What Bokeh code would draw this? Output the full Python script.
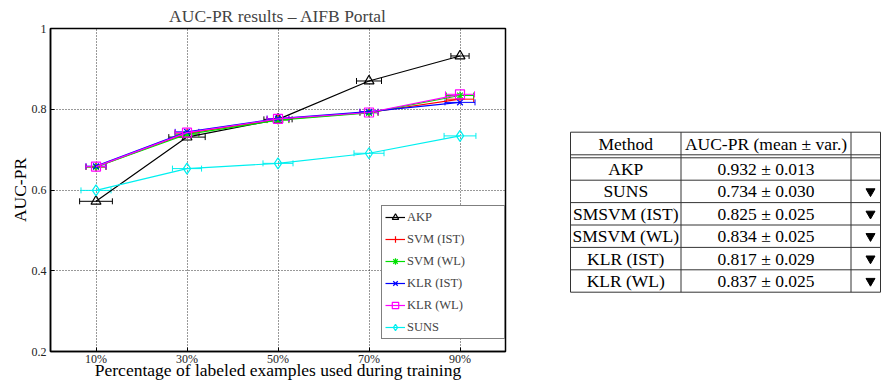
from bokeh.plotting import figure
from bokeh.models import (Range1d, FixedTicker, ColumnDataSource, Whisker, TeeHead,
                          Legend, LegendItem)
from bokeh.core.properties import value
from bokeh.layouts import row
from bokeh.embed import file_html
from bokeh.resources import INLINE

# ---------------- data ----------------
x_pct = [10, 30, 50, 70, 90]
x_tick_labels = ["10%", "30%", "50%", "70%", "90%"]
y_ticks = [0.2, 0.4, 0.6, 0.8, 1.0]
y_tick_labels = ["0.2", "0.4", "0.6", "0.8", "1"]

akp = [0.572, 0.731, 0.775, 0.870, 0.932]
akp_err = [3.6, 4.0, 3.1, 2.75, 2.0]
svm_ist = [0.657, 0.741, 0.774, 0.792, 0.825]
svm_ist_err = [2.2, 2.6, 2.4, 2.0, 3.0]
svm_wl = [0.657, 0.738, 0.773, 0.791, 0.834]
svm_wl_err = [2.2, 2.6, 2.4, 2.0, 3.0]
klr_ist = [0.659, 0.744, 0.777, 0.794, 0.817]
klr_ist_err = [2.2, 2.6, 2.4, 2.0, 3.3]
klr_wl = [0.658, 0.742, 0.776, 0.792, 0.837]
klr_wl_err = [2.2, 2.6, 2.4, 2.0, 3.2]
suns = [0.599, 0.653, 0.666, 0.691, 0.734]
suns_err = [3.3, 3.2, 3.3, 3.3, 3.5]

series_names = ["AKP", "SVM (IST)", "SVM (WL)", "KLR (IST)", "KLR (WL)", "SUNS"]
series_values = [akp, svm_ist, svm_wl, klr_ist, klr_wl, suns]
series_errors = [akp_err, svm_ist_err, svm_wl_err, klr_ist_err, klr_wl_err, suns_err]

title_text = "AUC-PR results \u2013 AIFB Portal"
x_label = "Percentage of labeled examples used during training"
y_label = "AUC-PR"

table_header = ["Method", "AUC-PR (mean \u00b1 var.)"]
table_methods = ["AKP", "SUNS", "SMSVM (IST)", "SMSVM (WL)", "KLR (IST)", "KLR (WL)"]
table_mean = [0.932, 0.734, 0.825, 0.834, 0.817, 0.837]
table_var = [0.013, 0.030, 0.025, 0.025, 0.029, 0.025]
table_worse = [False, True, True, True, True, True]

# ---------------- styles ----------------
styles = {
    "AKP": dict(color="#000000", marker="triangle", size=10),
    "SVM (IST)": dict(color="#ff0000", marker="cross", size=9),
    "SVM (WL)": dict(color="#00e000", marker="asterisk", size=8),
    "KLR (IST)": dict(color="#0000ff", marker="x", size=8),
    "KLR (WL)": dict(color="#ff00ff", marker="square", size=9),
    "SUNS": dict(color="#00f0f0", marker="diamond", size=11),
}
SERIF = "Liberation Serif"
W1, W2, H = 518, 365, 383
BL, BR, BT, BB = 50, 13, 28, 32

# ---------------- chart ----------------
p = figure(width=W1, height=H, x_range=Range1d(0, 100), y_range=Range1d(0.2, 1.0),
           output_backend="svg", toolbar_location=None, title=title_text,
           min_border_left=BL, min_border_right=BR, min_border_top=BT, min_border_bottom=BB)
p.title.text_font = SERIF
p.title.text_font_size = "17.5px"
p.title.text_font_style = "normal"
p.title.align = "center"
p.title.standoff = 6

p.outline_line_color = "black"
p.outline_line_width = 1.5
p.background_fill_color = "white"

p.xaxis.ticker = FixedTicker(ticks=x_pct)
p.xaxis.major_label_overrides = dict(zip(x_pct, x_tick_labels))
p.yaxis.ticker = FixedTicker(ticks=y_ticks)
p.yaxis.major_label_overrides = dict(zip(y_ticks, y_tick_labels))
p.xaxis.axis_label = x_label
p.yaxis.axis_label = y_label
for ax in (p.xaxis, p.yaxis):
    ax.axis_label_text_font = SERIF
    ax.axis_label_text_font_size = "17.5px"
    ax.axis_label_text_font_style = "normal"
    ax.axis_label_text_color = "black"
    ax.major_label_text_font = SERIF
    ax.major_label_text_font_size = "12px"
    ax.major_label_text_color = "#222222"
    ax.major_tick_in = 4
    ax.major_tick_out = 0
    ax.minor_tick_in = 0
    ax.minor_tick_out = 0
    ax.major_tick_line_color = "black"
    ax.axis_line_color = "black"
    ax.axis_line_width = 1.5
p.xaxis.major_label_standoff = 0
p.xaxis.axis_label_standoff = -9
p.yaxis.major_label_standoff = 4
p.yaxis.axis_label_standoff = -1

p.grid.grid_line_color = "black"
p.grid.grid_line_dash = "1 2"
p.grid.grid_line_alpha = 0.8
p.grid.grid_line_width = 1

items = []
for name, vals, errs in zip(series_names, series_values, series_errors):
    st = styles[name]
    src = ColumnDataSource(dict(x=x_pct, y=vals,
                                lo=[xv - e for xv, e in zip(x_pct, errs)],
                                hi=[xv + e for xv, e in zip(x_pct, errs)]))
    wh = Whisker(source=src, base="y", lower="lo", upper="hi", dimension="width",
                 line_color=st["color"], line_width=1,
                 upper_head=TeeHead(size=6, line_color=st["color"], line_width=1),
                 lower_head=TeeHead(size=6, line_color=st["color"], line_width=1))
    p.add_layout(wh)
    ln = p.line("x", "y", source=src, line_color=st["color"], line_width=1.2)
    sc = p.scatter("x", "y", source=src, marker=st["marker"], size=st["size"],
                   line_color=st["color"], fill_color=None, line_width=1.2)
    items.append(LegendItem(label=name, renderers=[ln, sc]))

legend = Legend(items=items, location=(331, 12))
legend.label_text_font = SERIF
legend.label_text_font_size = "12.5px"
legend.glyph_width = 20
legend.glyph_height = 16
legend.label_height = 16
legend.label_width = 94
legend.label_standoff = 2
legend.spacing = 6
legend.padding = 3
legend.margin = 0
legend.border_line_color = "black"
legend.border_line_width = 1
legend.background_fill_alpha = 1
p.add_layout(legend)

# ---------------- table ----------------
# data coordinates of this panel equal pixel offsets inside the figure
t = figure(width=W2, height=H, x_range=Range1d(0, W2), y_range=Range1d(H - BB, BT),
           output_backend="svg", toolbar_location=None,
           min_border_left=0, min_border_right=0, min_border_top=BT, min_border_bottom=BB,
           x_axis_location=None, y_axis_location=None)
t.outline_line_color = None
t.grid.visible = False

col_x = [52, 162.5, 332.5, 362]
head_top, head_bot, dbl = 131.7, 154.3, 157.3
row_h = 22.4
n = len(table_methods)
row_lines = [dbl + row_h * (i + 1) for i in range(n)]
h_y = [head_top, head_bot, dbl] + row_lines
t.segment(x0=[col_x[0]] * len(h_y), x1=[col_x[-1]] * len(h_y), y0=h_y, y1=h_y,
          line_color="#333333", line_width=1)
t.segment(x0=col_x, x1=col_x, y0=[head_top] * 4, y1=[row_lines[-1]] * 4,
          line_color="#333333", line_width=1)

centers = [(col_x[i] + col_x[i + 1]) / 2 for i in range(3)]
t.text(x=centers[:2], y=[(head_top + head_bot) / 2] * 2, text=table_header,
       text_font=value(SERIF), text_font_size="17.5px", text_align="center",
       text_baseline="middle", text_color="black")
row_c = [dbl + row_h * (i + 0.5) for i in range(n)]
t.text(x=[centers[0]] * n, y=row_c, text=table_methods,
       text_font=value(SERIF), text_font_size="17.5px", text_align="center",
       text_baseline="middle", text_color="black")
vals_txt = [f"{m:.3f} \u00b1 {v:.3f}" for m, v in zip(table_mean, table_var)]
t.text(x=[centers[1]] * n, y=row_c, text=vals_txt,
       text_font=value(SERIF), text_font_size="17.5px", text_align="center",
       text_baseline="middle", text_color="black")
wy = [yc for yc, w in zip(row_c, table_worse) if w]
t.scatter(x=[352] * len(wy), y=wy, marker="inverted_triangle", size=9,
          fill_color="black", line_color="black")

layout = row(p, t)
open("out.html", "w").write(file_html(layout, INLINE))
